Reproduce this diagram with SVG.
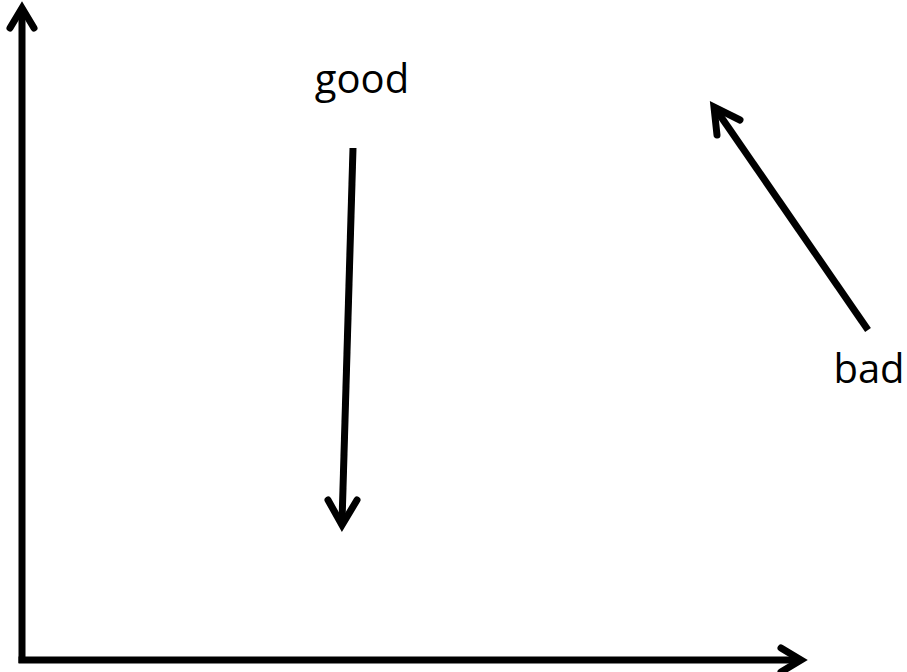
<svg xmlns="http://www.w3.org/2000/svg" width="907" height="672" viewBox="0 0 907 672">
<style>
.ln{stroke:#000;stroke-width:7;fill:none;stroke-linecap:butt}
.hd{stroke:#000;stroke-width:7;fill:none;stroke-linecap:round;stroke-linejoin:miter}
.t{font-family:"Open Sans","Liberation Sans",sans-serif;font-size:40px;fill:#000}
</style>
<rect width="907" height="672" fill="#fff"/>
<g id="connectors">
<g id="y-axis">
<line class="ln" x1="22" y1="663" x2="22" y2="9"/>
<polyline class="hd" points="10,28 22,8 34,28"/>
</g>
<g id="x-axis">
<line class="ln" x1="18.5" y1="660" x2="800" y2="660"/>
<polyline class="hd" points="781,648 801,660 781,672"/>
</g>
<g id="good-arrow">
<line class="ln" x1="353" y1="148" x2="342" y2="522"/>
<polyline class="hd" points="328,500 342,525 357,500"/>
</g>
<g id="bad-arrow">
<line class="ln" x1="868" y1="330" x2="717" y2="111"/>
<polyline class="hd" points="740,120 714,107 717,135"/>
</g>
</g>
<g id="label-good"><text class="t" x="362" y="93" text-anchor="middle">good</text></g>
<g id="label-bad"><text class="t" x="869" y="383" text-anchor="middle">bad</text></g>
</svg>
